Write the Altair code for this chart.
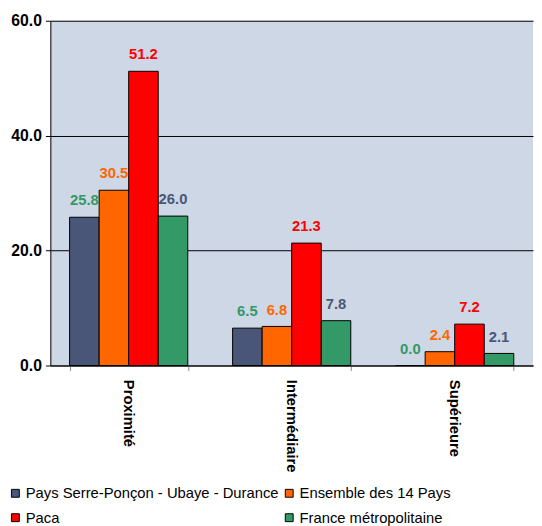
import altair as alt
import pandas as pd

categories = ["Proximité", "Intermédiaire", "Supérieure"]
series = ["Pays Serre-Ponçon - Ubaye - Durance", "Ensemble des 14 Pays", "Paca", "France métropolitaine"]
vals_pays = [25.8, 6.5, 0.0]
vals_ensemble = [30.5, 6.8, 2.4]
vals_paca = [51.2, 21.3, 7.2]
vals_france = [26.0, 7.8, 2.1]
bar_colors = ["#4A5677", "#FF6600", "#FF0000", "#339966"]
label_colors = ["#339966", "#FF6600", "#FF0000", "#4A5677"]
y_ticks = [0, 20, 40, 60]

rows = []
for si, (s, vals) in enumerate(zip(series, [vals_pays, vals_ensemble, vals_paca, vals_france])):
    for c, v in zip(categories, vals):
        rows.append({"category": c, "series": s, "value": v,
                     "label": f"{v:.1f}", "label_color": label_colors[si]})
df = pd.DataFrame(rows)

# legend fills column by column: order entries so rows read like the reference
legend_order = [0, 2, 1, 3]
legend_domain = [series[i] for i in legend_order]
legend_range = [bar_colors[i] for i in legend_order]

FONT = "Liberation Sans"

x = alt.X("category:N", sort=categories,
          scale=alt.Scale(paddingInner=0.275, paddingOuter=0.118),
          axis=alt.Axis(title=None, labelAngle=90, labelAlign="left", labelBaseline="middle",
                        labelFontWeight="bold", labelFontSize=15, labelColor="black",
                        tickBand="extent", domainColor="black", tickColor="#888888",
                        tickSize=5, labelPadding=9))
xo = alt.XOffset("series:N", sort=series, scale=alt.Scale(paddingInner=0, paddingOuter=0))
y = alt.Y("value:Q", scale=alt.Scale(domain=[0, 60], nice=False),
          axis=alt.Axis(values=y_ticks, format=".1f", title=None, labelFontWeight="bold",
                        labelFontSize=16, labelColor="black", gridColor="black",
                        domainColor="black", tickColor="black", tickSize=5, labelPadding=4))

bars = alt.Chart(df).mark_bar(stroke="black", strokeWidth=1).encode(
    x=x, xOffset=xo, y=y,
    color=alt.Color("series:N",
                    scale=alt.Scale(domain=legend_domain, range=legend_range),
                    legend=alt.Legend(title=None, orient="none", legendX=-43, legendY=472,
                                      padding=0, columns=2, labelFontSize=15,
                                      labelColor="black", labelLimit=400,
                                      symbolType="square", symbolSize=64,
                                      symbolStrokeColor="black", symbolStrokeWidth=1,
                                      symbolOpacity=1, columnPadding=3, rowPadding=9,
                                      labelOffset=3)),
)

labels = alt.Chart(df).mark_text(fontWeight="bold", fontSize=15, baseline="alphabetic",
                                 dy=-12, font=FONT).encode(
    x=x, xOffset=xo, y=y,
    text="label:N",
    color=alt.Color("label_color:N", scale=None),
)

chart = alt.layer(bars, labels).resolve_scale(color="independent").properties(
    width=490, height=350,
    autosize=alt.AutoSizeParams(type="none"),
    padding={"left": 43, "top": 9, "right": 1, "bottom": 159},
).configure(font=FONT).configure_view(fill="#CED7E5", stroke=None)

chart.save("out.html", embed_options={"renderer": "svg", "actions": False})
